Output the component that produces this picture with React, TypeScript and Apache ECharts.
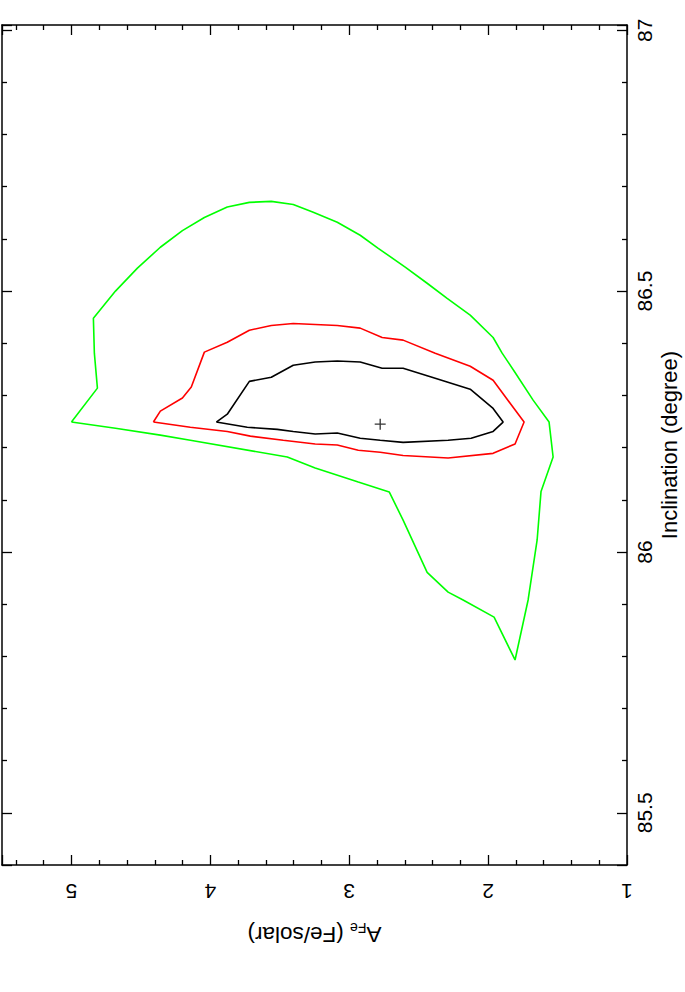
import { useEffect, useRef } from "react";
import * as echarts from "echarts";

// Confidence contours: [A_Fe (Fe/solar), Inclination (degree)]
const contour68: [number, number][] = [
  [3.957, 86.249], [3.878, 86.264], [3.719, 86.327], [3.561, 86.335], [3.403, 86.358],
  [3.245, 86.364], [3.086, 86.366], [2.921, 86.364], [2.763, 86.352], [2.612, 86.352],
  [2.381, 86.333], [2.129, 86.312], [1.964, 86.275], [1.892, 86.249], [1.964, 86.231],
  [2.122, 86.218], [2.288, 86.214], [2.612, 86.21], [2.777, 86.214], [2.921, 86.218],
  [3.086, 86.228], [3.245, 86.226], [3.403, 86.231], [3.518, 86.235], [3.734, 86.239],
  [3.957, 86.249],
];

const contour90: [number, number][] = [
  [4.41, 86.249], [4.36, 86.27], [4.201, 86.295], [4.137, 86.316], [4.043, 86.383],
  [3.878, 86.402], [3.719, 86.425], [3.561, 86.434], [3.403, 86.438], [3.245, 86.436],
  [3.086, 86.434], [2.921, 86.429], [2.763, 86.411], [2.612, 86.406], [2.381, 86.381],
  [2.129, 86.356], [1.964, 86.329], [1.741, 86.249], [1.806, 86.207], [1.964, 86.189],
  [2.288, 86.18], [2.612, 86.185], [2.777, 86.191], [2.935, 86.195], [3.086, 86.205],
  [3.245, 86.207], [3.475, 86.214], [3.712, 86.222], [3.878, 86.231], [4.144, 86.239],
  [4.41, 86.249],
];

const contour99: [number, number][] = [
  [5.0, 86.249], [4.813, 86.314], [4.835, 86.381], [4.842, 86.448], [4.683, 86.5],
  [4.525, 86.544], [4.36, 86.584], [4.201, 86.616], [4.043, 86.641], [3.878, 86.661],
  [3.719, 86.67], [3.561, 86.672], [3.403, 86.666], [3.259, 86.651], [3.086, 86.632],
  [2.921, 86.607], [2.791, 86.582], [2.597, 86.546], [2.439, 86.515], [2.295, 86.486],
  [2.129, 86.454], [1.964, 86.411], [1.899, 86.381], [1.806, 86.344], [1.676, 86.291],
  [1.561, 86.249], [1.532, 86.182], [1.619, 86.116], [1.647, 86.023], [1.712, 85.908],
  [1.806, 85.793], [1.957, 85.875], [2.18, 85.908], [2.288, 85.923], [2.439, 85.961],
  [2.612, 86.061], [2.712, 86.115], [2.935, 86.134], [3.245, 86.161], [3.446, 86.182],
  [4.144, 86.214], [4.36, 86.224], [4.683, 86.237], [5.0, 86.249],
];

const bestFit: [number, number][] = [[2.777, 86.245]];

const xRange = { min: 1, max: 5.5, interval: 1 };
const yRange = { min: 85.4, max: 87.01, splitNumber: 3 };

const FONT = "'Liberation Sans', Arial, Helvetica, sans-serif";

export default function App() {
  const ref = useRef<HTMLDivElement>(null);
  useEffect(() => {
    if (!ref.current) return;
    const chart = echarts.init(ref.current, undefined, { renderer: "svg" });
    const lineStyle = { color: "#000", width: 1.5 };
    const tick = { show: true, inside: true, length: 10, lineStyle: { color: "#000", width: 1.3 } };
    const minor = { show: true, splitNumber: 5, length: 5, lineStyle: { color: "#000", width: 1.3 } };
    const common = {
      type: "value" as const,
      axisLine: { show: true, onZero: false, lineStyle },
      axisTick: tick,
      minorTick: minor,
      splitLine: { show: false },
      minorSplitLine: { show: false },
    };
    chart.setOption({
      animation: false,
      backgroundColor: "#fff",
      grid: {
        left: 2,
        right: 58,
        top: 25,
        bottom: 127,
        containLabel: false,
        outerBoundsMode: "none",
      },
      xAxis: [
        {
          ...common,
          ...xRange,
          inverse: true,
          position: "bottom",
          axisLabel: {
            rotate: 180,
            margin: 16,
            fontSize: 21,
            color: "#000",
            fontFamily: FONT,
            showMaxLabel: false,
          },
          name: "{a|A}{s|Fe}{a| (Fe/solar)}",
          nameLocation: "middle",
          nameRotate: 180,
          nameGap: 56,
          nameMoveOverlap: false,
          nameTextStyle: {
            color: "#000",
            fontFamily: FONT,
            fontSize: 22.5,
            rich: {
              a: { fontSize: 22.5, fontFamily: FONT, color: "#000", lineHeight: 27, verticalAlign: "middle" },
              s: { fontSize: 14, fontFamily: FONT, color: "#000", lineHeight: 14, verticalAlign: "bottom" },
            },
          },
        },
        {
          ...common,
          ...xRange,
          inverse: true,
          position: "top",
          axisLabel: { show: false },
        },
      ],
      yAxis: [
        {
          ...common,
          ...yRange,
          position: "right",
          axisLabel: {
            rotate: 90,
            margin: 7,
            fontSize: 21,
            color: "#000",
            fontFamily: FONT,
            showMinLabel: false,
            showMaxLabel: false,
          },
          name: "Inclination (degree)",
          nameLocation: "middle",
          nameRotate: 90,
          nameGap: 31,
          nameMoveOverlap: false,
          nameTextStyle: { color: "#000", fontFamily: FONT, fontSize: 22, lineHeight: 22 },
        },
        {
          ...common,
          ...yRange,
          position: "left",
          axisLabel: { show: false },
        },
      ],
      series: [
        {
          name: "99%",
          type: "line",
          data: contour99,
          symbol: "none",
          lineStyle: { color: "#00ff00", width: 1.6 },
          xAxisIndex: 0,
          yAxisIndex: 0,
        },
        {
          name: "90%",
          type: "line",
          data: contour90,
          symbol: "none",
          lineStyle: { color: "#ff0000", width: 1.6 },
          xAxisIndex: 0,
          yAxisIndex: 0,
        },
        {
          name: "68%",
          type: "line",
          data: contour68,
          symbol: "none",
          lineStyle: { color: "#000000", width: 1.6 },
          xAxisIndex: 0,
          yAxisIndex: 0,
        },
        {
          name: "best fit",
          type: "scatter",
          data: bestFit,
          symbol: "path://M4.4,0h1.2v4.4h4.4v1.2h-4.4v4.4h-1.2v-4.4h-4.4v-1.2h4.4z",
          symbolSize: 11,
          itemStyle: { color: "#000" },
          xAxisIndex: 0,
          yAxisIndex: 0,
        },
      ],
    });
    return () => chart.dispose();
  }, []);
  return (
    <div
      ref={ref}
      style={{ position: "absolute", left: 0, top: 0, width: 685, height: 992 }}
    />
  );
}
